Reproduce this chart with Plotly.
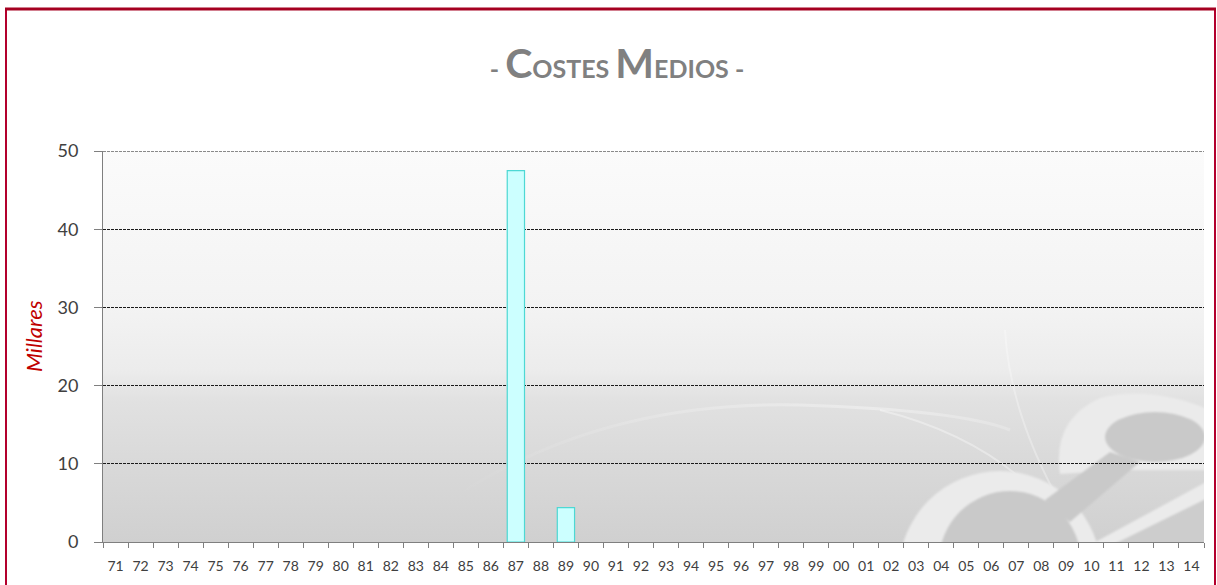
import base64
import plotly.graph_objects as go

# Two-digit year labels, 1971 through 2014
years = [f"{y % 100:02d}" for y in range(1971, 2015)]
# Average cost per year, in thousands (only two years reported)
cost_values = {"87": 47.5, "89": 4.4}
values = [cost_values.get(y) for y in years]
y_ticks = [0, 10, 20, 30, 40, 50]

W, H = 1217, 585
L, R, T, B = 103, 13, 151, 43
PW, PH = W - L - R, H - T - B


def px(x):
    return (x - L) / PW


def py(y):
    return 1 - (y - T) / PH


# Plot-area backdrop: soft grey gradient with a faint logo watermark
svg = f"""<svg xmlns='http://www.w3.org/2000/svg' width='{PW}' height='{PH}' viewBox='0 0 {PW} {PH}' preserveAspectRatio='none'>
<defs>
<linearGradient id='g' x1='0' y1='0' x2='0' y2='1'>
<stop offset='0' stop-color='#fbfbfb'/>
<stop offset='0.40' stop-color='#f3f3f3'/>
<stop offset='0.56' stop-color='#ececec'/>
<stop offset='0.64' stop-color='#e1e1e1'/>
<stop offset='0.82' stop-color='#d8d8d8'/>
<stop offset='1' stop-color='#d0d0d0'/>
</linearGradient>
<linearGradient id='h' x1='0' y1='0' x2='1' y2='0'>
<stop offset='0' stop-color='#ffffff' stop-opacity='0'/>
<stop offset='0.75' stop-color='#ffffff' stop-opacity='0.35'/>
<stop offset='1' stop-color='#ffffff' stop-opacity='0.2'/>
</linearGradient>
<filter id='s'><feGaussianBlur stdDeviation='1.2'/></filter>
</defs>
<rect x='0' y='0' width='{PW}' height='{PH}' fill='url(#g)'/>
<g transform='translate({-L},{-T})'>
<path d='M 450 500 Q 600 400 800 405 Q 960 410 1010 430' fill='none' stroke='url(#h)' stroke-width='3'/>
<path d='M 880 410 Q 1000 440 1060 520' fill='none' stroke='#ffffff' stroke-opacity='0.35' stroke-width='2'/>
<path d='M 1005 330 Q 1010 420 1070 520' fill='none' stroke='#ffffff' stroke-opacity='0.3' stroke-width='2'/>
<g filter='url(#s)'>
<circle cx='1000' cy='572' r='101' fill='#ebebeb'/>
<path d='M 1060 474 Q 1052 420 1100 398 Q 1150 385 1210 410 L 1210 470 L 1120 470 Z' fill='#ebebeb'/>
<circle cx='1010' cy='562' r='71' fill='#c9c9c9'/>
<ellipse cx='1155' cy='437' rx='50' ry='25' fill='#c9c9c9'/>
<polygon points='1045,500 1110,452 1140,462 1070,522' fill='#c9c9c9'/>
<polygon points='1062,560 1210,480 1210,497 1082,560' fill='#ebebeb'/>
<polygon points='1082,560 1210,497 1210,560' fill='#cdcdcd'/>
</g>
</g>
</svg>"""
bg_src = "data:image/svg+xml;base64," + base64.b64encode(svg.encode()).decode()

fig = go.Figure(
    go.Bar(
        x=years,
        y=values,
        marker=dict(color="#ccffff", line=dict(color="#4dd8d4", width=1.2)),
        hoverinfo="x+y",
    )
)

axis_font = dict(family="Lato, 'Open Sans', sans-serif", color="#404040")
grid_dash = "3px,1px"

fig.update_layout(
    width=W,
    height=H,
    margin=dict(l=L, r=R, t=T, b=B),
    paper_bgcolor="white",
    plot_bgcolor="rgba(0,0,0,0)",
    showlegend=False,
    bargap=0.31,
    title=dict(
        text=(
            "- <span style='font-size:41px'>C</span>OSTES "
            "<span style='font-size:41px'>M</span>EDIOS -"
        ),
        font=dict(family="Lato, 'Open Sans', sans-serif", size=25, color="#808080", weight="bold"),
        xref="paper",
        x=px(617),
        xanchor="center",
        yref="container",
        y=1 - 69 / H,
        yanchor="middle",
    ),
    xaxis=dict(
        type="category",
        tickmode="array",
        tickvals=years,
        ticktext=years,
        tickangle=0,
        tickson="boundaries",
        ticks="outside",
        ticklen=5,
        tickcolor="#7f7f7f",
        tickfont=dict(size=14, **axis_font),
        ticklabelstandoff=11,
        showline=True,
        linecolor="#7f7f7f",
        linewidth=1,
        showgrid=False,
        fixedrange=True,
    ),
    yaxis=dict(
        range=[0, 50],
        tickvals=y_ticks,
        ticks="outside",
        ticklen=8,
        tickcolor="#7f7f7f",
        tickfont=dict(size=18, **axis_font),
        ticklabelstandoff=12,
        showline=True,
        linecolor="#7f7f7f",
        linewidth=1,
        showgrid=True,
        gridcolor="#1a1a1a",
        gridwidth=1,
        griddash=grid_dash,
        zeroline=False,
        fixedrange=True,
    ),
    images=[
        dict(
            source=bg_src,
            xref="paper",
            yref="paper",
            x=0,
            y=1,
            sizex=1,
            sizey=1,
            xanchor="left",
            yanchor="top",
            sizing="stretch",
            layer="below",
        )
    ],
    annotations=[
        dict(
            text="<i>Millares</i>",
            xref="paper",
            yref="paper",
            x=px(33),
            y=py(336),
            xanchor="center",
            yanchor="middle",
            textangle=-90,
            showarrow=False,
            font=dict(family="Lato, 'Open Sans', sans-serif", size=22, color="#c00000"),
        )
    ],
    shapes=[
        # Gridline at the top of the value range
        dict(
            type="line",
            xref="paper",
            yref="y",
            x0=0,
            x1=1,
            y0=y_ticks[-1],
            y1=y_ticks[-1],
            line=dict(color="#1a1a1a", width=1, dash=grid_dash),
            layer="above",
        ),
        # Outer frame of the chart
        dict(
            type="rect",
            xref="paper",
            yref="paper",
            x0=px(6),
            x1=px(1215),
            y0=py(600),
            y1=py(9),
            line=dict(color="#b3002d", width=2),
            layer="above",
        ),
        dict(
            type="line",
            xref="paper",
            yref="paper",
            x0=px(5),
            x1=px(1216),
            y0=py(9),
            y1=py(9),
            line=dict(color="#a50021", width=3),
            layer="above",
        ),
    ],
)

fig.write_html("out.html")
